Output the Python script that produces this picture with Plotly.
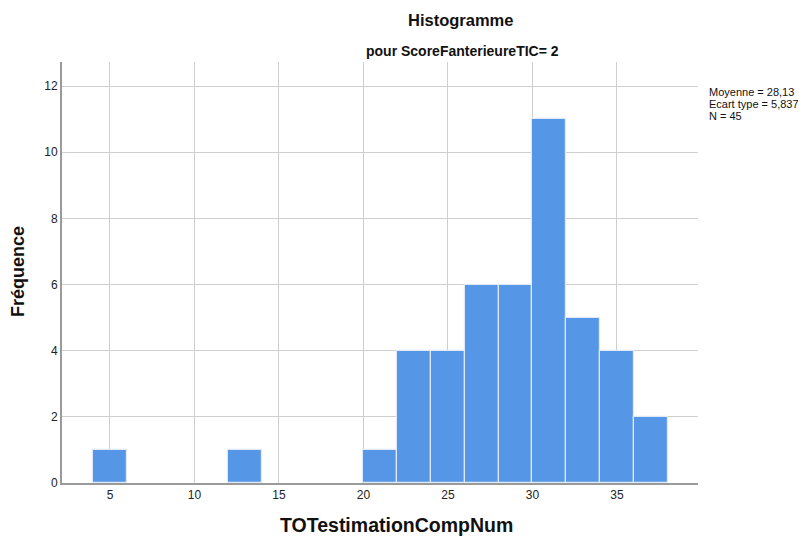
import plotly.graph_objects as go

bin_starts = [4, 12, 20, 22, 24, 26, 28, 30, 32, 34, 36]
counts = [1, 1, 1, 4, 4, 6, 6, 11, 5, 4, 2]
bin_width = 2
x_ticks = [5, 10, 15, 20, 25, 30, 35]
y_ticks = [0, 2, 4, 6, 8, 10, 12]
stats_lines = ["Moyenne = 28,13", "Ecart type = 5,837", "N = 45"]

FONT = "Liberation Sans, Arial, sans-serif"
OFF = 8  # page body margin
W, H = 806 - OFF, 536 - OFF
# target plot area in page pixels: x 62..698, y 62..483
L, R, T, B = 62 - OFF, W - (698 - OFF), 62 - OFF, H - (483 - OFF)

fig = go.Figure()
fig.add_trace(go.Bar(
    x=bin_starts, y=counts, width=bin_width, offset=0,
    marker=dict(color="#5596E6", line=dict(color="#dfe9f7", width=1.2)),
    hoverinfo="y",
))

annots = [
    dict(text="<b>Histogramme</b>", x=460, y=20,
         font=dict(size=16.5, color="#111", family=FONT)),
    dict(text="<b>pour ScoreFanterieureTIC= 2</b>", x=462, y=51,
         font=dict(size=14, color="#111", family=FONT)),
    dict(text="<b>TOTestimationCompNum</b>", x=396, y=525,
         font=dict(size=19.5, color="#111", family=FONT)),
    dict(text="<b>Fréquence</b>", x=18, y=272, textangle=-90,
         font=dict(size=18, color="#111", family=FONT)),
]
for i, line in enumerate(stats_lines):
    annots.append(dict(text=line, x=707, y=92 + 12 * i, xanchor="left",
                       font=dict(size=11, color="#111", family=FONT)))

pw, ph = W - L - R, H - T - B
for a in annots:
    a["x"] = (a["x"] - OFF - L) / pw
    a["y"] = 1 - (a["y"] - OFF - T) / ph
    a.update(xref="paper", yref="paper", showarrow=False, yanchor="middle")
    a.setdefault("xanchor", "center")

fig.update_layout(
    width=W, height=H,
    margin=dict(l=L, r=R, t=T, b=B),
    paper_bgcolor="white", plot_bgcolor="white",
    showlegend=False,
    font=dict(family=FONT, size=12, color="#222"),
    bargap=0,
    xaxis=dict(
        range=[2.16, 39.8], tickvals=x_ticks, ticks="",
        showgrid=True, gridcolor="#cfcfcf", gridwidth=1,
        showline=True, linecolor="#9a9a9a", linewidth=2,
        zeroline=False, tickfont=dict(size=12, color="#222"),
    ),
    yaxis=dict(
        range=[0, 12.73], tickvals=y_ticks, ticks="",
        showgrid=True, gridcolor="#cfcfcf", gridwidth=1,
        showline=True, linecolor="#9a9a9a", linewidth=2,
        zeroline=False, tickfont=dict(size=12, color="#222"),
    ),
    annotations=annots,
)

fig.write_html("out.html")
